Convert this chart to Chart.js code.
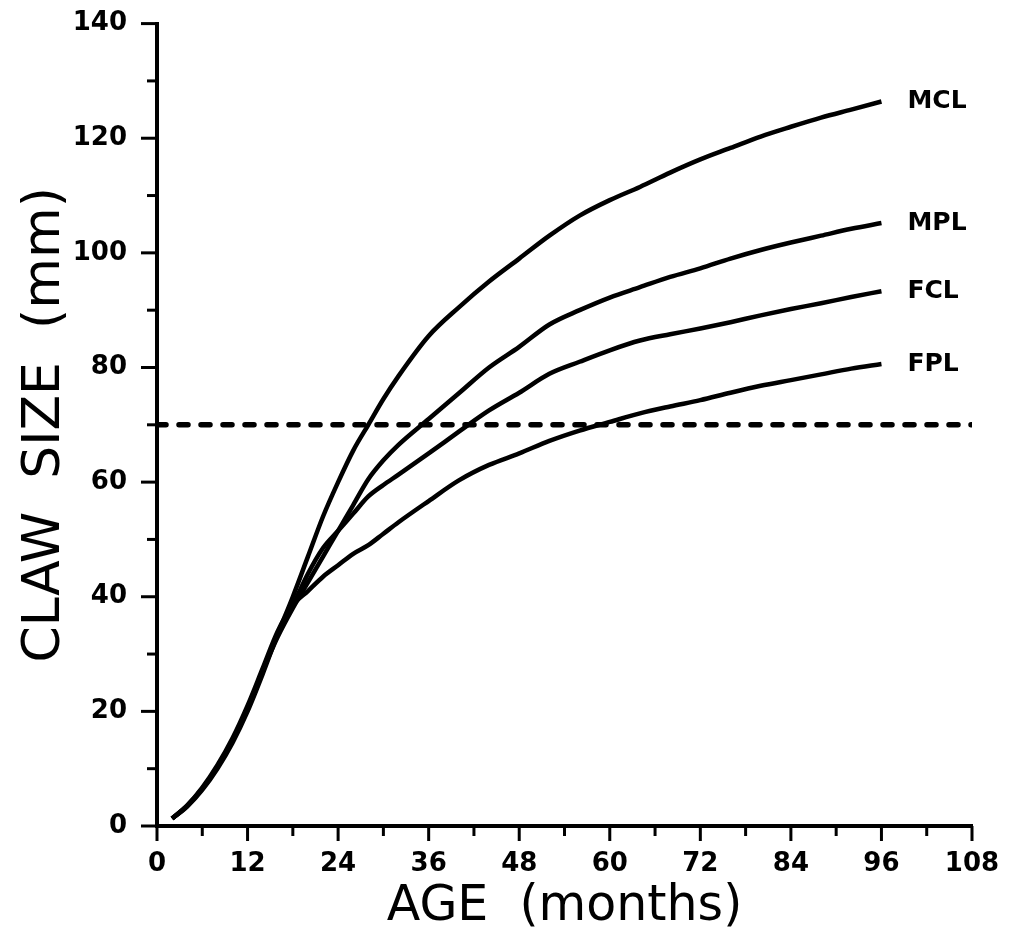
<!DOCTYPE html>
<html>
<head>
<meta charset="utf-8">
<script src="https://cdn.jsdelivr.net/npm/chart.js@4/dist/chart.umd.min.js"></script>
<style>
    body { margin: 0; background: #fff; }
    #wrap { width: 1011px; height: 937px; position: relative; }
</style>
</head>
<body>
<div id="wrap"><canvas id="clawChart"></canvas></div>
<script>
// age in months
const months = [2, 4, 6, 8, 10, 12, 14, 16, 18, 20, 22, 24, 26, 28, 30, 32, 36, 40, 44, 48, 52, 56, 60, 64, 68, 72, 76, 80, 84, 88, 92, 96];

// claw size (mm)
const mcl = [1.3, 3.4, 6.3, 10, 14.5, 20, 26.5, 33.5, 40, 47, 54, 60, 65.5, 70, 74.5, 78.5, 85.5, 90.5, 95, 99, 103, 106.5, 109.2, 111.5, 114, 116.3, 118.3, 120.3, 122, 123.6, 125, 126.4];
const mpl = [1.3, 3.5, 6.5, 10.3, 14.8, 20.5, 27, 33, 38, 42.5, 47, 51.5, 56, 60.5, 63.8, 66.5, 71, 75.5, 80, 83.6, 87.5, 90, 92.2, 94, 95.8, 97.3, 99, 100.5, 101.8, 103, 104.2, 105.2];
const fcl = [1.3, 3.5, 6.5, 10.3, 15, 20.5, 27, 33.5, 38.5, 44, 48.5, 51.5, 54.5, 57.5, 59.5, 61.3, 65, 68.8, 72.5, 75.6, 78.9, 81, 83, 84.7, 85.8, 86.8, 87.9, 89.1, 90.2, 91.2, 92.3, 93.3];
const fpl = [1.3, 3.6, 6.7, 10.6, 15.3, 21, 27.5, 34, 38.5, 41, 43.5, 45.5, 47.5, 49, 51, 53, 56.7, 60.3, 63, 65, 67.2, 69, 70.5, 72, 73.2, 74.3, 75.6, 76.8, 77.8, 78.8, 79.8, 80.6];

const seriesNames = ['MCL', 'MPL', 'FCL', 'FPL'];
const seriesValues = [mcl, mpl, fcl, fpl];

// reference line
const refLineX = [0, 108];
const refLineY = 70;

const xTicks = [0, 12, 24, 36, 48, 60, 72, 84, 96, 108];
const yTicks = [0, 20, 40, 60, 80, 100, 120, 140];

function toPoints(xs, ys) {
    return xs.map((x, i) => ({ x: x, y: ys[i] }));
}

// tick marks: long at labelled values, short in between
const tickMarks = {
    id: 'tickMarks',
    afterDraw(chart) {
        const ctx = chart.ctx;
        const xs = chart.scales.x;
        const ys = chart.scales.y;
        ctx.save();
        ctx.strokeStyle = '#000';
        ctx.lineWidth = 3;
        for (let v = 0; v <= 140; v += 10) {
            const py = ys.getPixelForValue(v);
            const len = v % 20 === 0 ? 16 : 10;
            ctx.beginPath();
            ctx.moveTo(xs.left - len, py);
            ctx.lineTo(xs.left, py);
            ctx.stroke();
        }
        for (let m = 0; m <= 108; m += 6) {
            const px = xs.getPixelForValue(m);
            const len = m % 12 === 0 ? 15 : 10;
            ctx.beginPath();
            ctx.moveTo(px, ys.bottom);
            ctx.lineTo(px, ys.bottom + len);
            ctx.stroke();
        }
        ctx.restore();
    }
};

// curve names at the end of each line
const endLabels = {
    id: 'endLabels',
    afterDatasetsDraw(chart) {
        const ctx = chart.ctx;
        ctx.save();
        ctx.fillStyle = '#000';
        ctx.font = 'bold 25px "DejaVu Sans"';
        ctx.textAlign = 'left';
        ctx.textBaseline = 'middle';
        seriesNames.forEach((name, i) => {
            const meta = chart.getDatasetMeta(i);
            const last = meta.data[meta.data.length - 1];
            ctx.fillText(name, last.x + 26, last.y);
        });
        ctx.restore();
    }
};

document.addEventListener('DOMContentLoaded', function() {
    const ctx = document.getElementById('clawChart').getContext('2d');

    const datasets = seriesValues.map((vals, i) => ({
        label: seriesNames[i],
        data: toPoints(months, vals),
        borderColor: '#000',
        borderWidth: 4.5,
        pointRadius: 0,
        cubicInterpolationMode: 'monotone',
        fill: false
    }));
    datasets.push({
        label: 'ref',
        data: toPoints(refLineX, [refLineY, refLineY]),
        borderColor: '#000',
        borderWidth: 5.5,
        borderDash: [9, 13],
        borderCapStyle: 'round',
        pointRadius: 0,
        fill: false
    });

    new Chart(ctx, {
        type: 'line',
        data: { datasets: datasets },
        options: {
            responsive: true,
            maintainAspectRatio: false,
            animation: false,
            layout: {
                padding: { top: 16, right: 39, left: 0, bottom: 0 }
            },
            plugins: {
                legend: { display: false },
                tooltip: { enabled: false }
            },
            scales: {
                x: {
                    type: 'linear',
                    min: 0,
                    max: 108,
                    afterFit: function(scale) { scale.height = 111; },
                    afterBuildTicks: function(scale) {
                        scale.ticks = xTicks.map(v => ({ value: v }));
                    },
                    border: { display: true, color: '#000', width: 4 },
                    grid: {
                        drawOnChartArea: false,
                        drawTicks: true,
                        tickLength: 15,
                        tickColor: 'rgba(0,0,0,0)'
                    },
                    ticks: {
                        color: '#000',
                        padding: 8,
                        maxRotation: 0,
                        font: { family: 'DejaVu Sans', size: 26, weight: 'bold' }
                    },
                    title: {
                        display: true,
                        text: 'AGE  (months)',
                        color: '#000',
                        padding: { top: 0, bottom: 0 },
                        font: { family: 'DejaVu Sans', size: 49 }
                    }
                },
                y: {
                    min: 0,
                    max: 140,
                    afterFit: function(scale) { scale.width = 157; },
                    afterBuildTicks: function(scale) {
                        scale.ticks = yTicks.map(v => ({ value: v }));
                    },
                    border: { display: true, color: '#000', width: 4 },
                    grid: {
                        drawOnChartArea: false,
                        drawTicks: true,
                        tickLength: 22,
                        tickColor: 'rgba(0,0,0,0)'
                    },
                    ticks: {
                        color: '#000',
                        padding: 8,
                        font: { family: 'DejaVu Sans', size: 26, weight: 'bold' }
                    },
                    title: {
                        display: true,
                        text: 'CLAW  SIZE  (mm)',
                        color: '#000',
                        padding: { top: 14, bottom: 0 },
                        font: { family: 'DejaVu Sans', size: 52 }
                    }
                }
            }
        },
        plugins: [tickMarks, endLabels]
    });
});
</script>
</body>
</html>
